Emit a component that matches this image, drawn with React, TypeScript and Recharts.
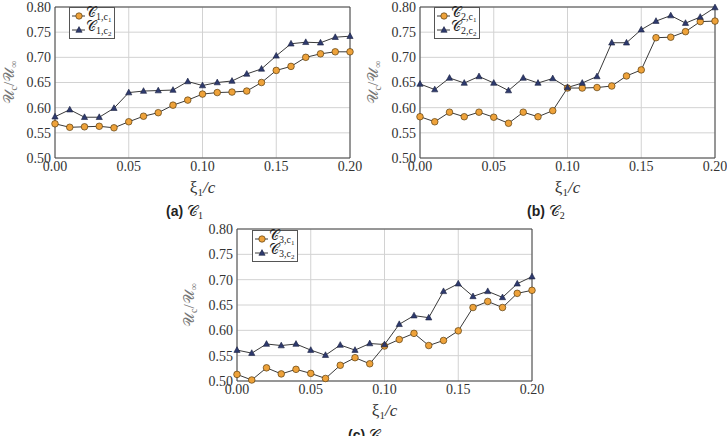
import React from "react";
import { CartesianGrid, Label, Legend, Line, LineChart, ReferenceArea, XAxis, YAxis } from "recharts";

// chordwise stations xi1/c
const xi = [0, 0.01, 0.02, 0.03, 0.04, 0.05, 0.06, 0.07, 0.08, 0.09, 0.1, 0.11, 0.12, 0.13, 0.14, 0.15, 0.16, 0.17, 0.18, 0.19, 0.2];

const c1e1 = [0.568, 0.561, 0.562, 0.563, 0.56, 0.572, 0.583, 0.59, 0.605, 0.615, 0.627, 0.63, 0.631, 0.633, 0.65, 0.674, 0.682, 0.7, 0.707, 0.711, 0.711];
const c1e2 = [0.582, 0.596, 0.581, 0.581, 0.599, 0.63, 0.633, 0.634, 0.635, 0.652, 0.644, 0.65, 0.653, 0.667, 0.677, 0.703, 0.727, 0.73, 0.729, 0.74, 0.742];
const c2e1 = [0.582, 0.572, 0.591, 0.582, 0.591, 0.581, 0.569, 0.591, 0.582, 0.594, 0.639, 0.639, 0.64, 0.643, 0.663, 0.675, 0.739, 0.74, 0.751, 0.771, 0.772];
const c2e2 = [0.647, 0.636, 0.659, 0.649, 0.662, 0.649, 0.634, 0.659, 0.649, 0.658, 0.64, 0.649, 0.662, 0.729, 0.729, 0.755, 0.772, 0.783, 0.768, 0.78, 0.799];
const c3e1 = [0.513, 0.502, 0.526, 0.514, 0.523, 0.515, 0.505, 0.531, 0.546, 0.534, 0.569, 0.582, 0.594, 0.57, 0.58, 0.599, 0.645, 0.657, 0.645, 0.673, 0.679];
const c3e2 = [0.561, 0.555, 0.573, 0.57, 0.573, 0.561, 0.551, 0.571, 0.561, 0.574, 0.572, 0.612, 0.629, 0.625, 0.677, 0.692, 0.667, 0.677, 0.665, 0.692, 0.706];

const xTicks = [0, 0.05, 0.1, 0.15, 0.2];
const yTicks = [0.5, 0.55, 0.6, 0.65, 0.7, 0.75, 0.8];

const serif = "'Liberation Serif', serif";
const sans = "'Liberation Sans', Arial, sans-serif";
const orange = "#eea23a";
const navy = "#2e3a6e";
const lineColor = "#3a3a3a";

function Tri(props: any) {
  const { cx, cy, index } = props;
  if (cx == null || cy == null) return <g key={index} />;
  return (
    <polygon
      key={index}
      points={`${cx},${cy - 3.4} ${cx - 3.1},${cy + 2.3} ${cx + 3.1},${cy + 2.3}`}
      fill={navy}
      stroke="#1b2240"
      strokeWidth={0.6}
    />
  );
}

function Name({ k, j }: { k: number; j: number }) {
  return (
    <span style={{ fontFamily: serif, fontSize: 14, color: "#222" }}>
      𝒞
      <span style={{ fontSize: 10, verticalAlign: -3 }}>
        {k},c<span style={{ fontSize: 7, verticalAlign: -2 }}>{j}</span>
      </span>
    </span>
  );
}

function LegendBox({ payload, k }: any) {
  return (
    <div style={{ border: "1px solid #555", background: "#fff", padding: "1px 3px 1px 1px", lineHeight: "14px" }}>
      {(payload || []).map((p: any, i: number) => (
        <div key={i} style={{ display: "flex", alignItems: "center", height: 14 }}>
          <svg width={15} height={12}>
            <line x1={1} y1={6} x2={14} y2={6} stroke={lineColor} strokeWidth={1} />
            {i === 0 ? (
              <circle cx={8} cy={6} r={3.2} fill={orange} stroke="#5a3d10" strokeWidth={0.7} />
            ) : (
              <polygon points="8,2.6 4.9,8.3 11.1,8.3" fill={navy} stroke="#1b2240" strokeWidth={0.6} />
            )}
          </svg>
          <Name k={k} j={i + 1} />
        </div>
      ))}
    </div>
  );
}

function Panel(props: {
  k: number;
  s1: number[];
  s2: number[];
  left: number;
  top: number;
  width: number;
  height: number;
  mt: number;
  mr: number;
  mb: number;
  yw: number;
  lx: number;
  ly: number;
}) {
  const { k, s1, s2, left, top, width, height, mt, mr, mb, yw, lx, ly } = props;
  const data = xi.map((x, i) => ({ x, e1: s1[i], e2: s2[i] }));
  const tickStyle = { fontSize: 14, fill: "#333", fontFamily: serif };
  return (
    <div style={{ position: "absolute", left, top, width, height }}>
      <LineChart width={width} height={height} data={data} margin={{ top: mt, right: mr, left: 0, bottom: mb }}>
        <CartesianGrid stroke="#d2d2d2" strokeWidth={1} />
        <XAxis
          dataKey="x"
          type="number"
          domain={[0, 0.2]}
          ticks={xTicks}
          tickFormatter={(v: number) => v.toFixed(2)}
          tick={tickStyle}
          tickLine={false}
          axisLine={false}
          tickSize={0}
          tickMargin={3}
          height={42}
          interval={0}
        >
          <Label
            content={(p: any) => {
              const vb = p.viewBox;
              return (
                <text x={vb.x + vb.width / 2} y={vb.y + 35} textAnchor="middle" fontFamily={serif} fontSize={17} fill="#333">
                  <tspan>ξ</tspan>
                  <tspan fontSize={11} dy={3}>1</tspan>
                  <tspan dy={-3} fontStyle="italic">/c</tspan>
                </text>
              );
            }}
          />
        </XAxis>
        <YAxis
          type="number"
          domain={[0.5, 0.8]}
          ticks={yTicks}
          tickFormatter={(v: number) => v.toFixed(2)}
          tick={tickStyle}
          tickLine={false}
          axisLine={false}
          tickSize={0}
          tickMargin={4}
          width={yw}
          interval={0}
        >
          <Label
            content={(p: any) => {
              const vb = p.viewBox;
              const cx = 14;
              const cy = vb.y + vb.height / 2;
              return (
                <text
                  x={cx}
                  y={cy}
                  transform={`rotate(-90 ${cx} ${cy})`}
                  textAnchor="middle"
                  fontFamily={serif}
                  fontSize={15}
                  fill="#777"
                >
                  <tspan>𝒰</tspan>
                  <tspan fontSize={10} dy={3}>c</tspan>
                  <tspan dy={-3}>/𝒰</tspan>
                  <tspan fontSize={10} dy={3}>∞</tspan>
                </text>
              );
            }}
          />
        </YAxis>
        <ReferenceArea x1={0} x2={0.2} y1={0.5} y2={0.8} fill="none" stroke="#444" strokeWidth={1} />
        <Line
          dataKey="e1"
          name="e1"
          stroke={lineColor}
          strokeWidth={1}
          dot={{ r: 3.3, fill: orange, stroke: "#5a3d10", strokeWidth: 0.7 }}
          isAnimationActive={false}
        />
        <Line dataKey="e2" name="e2" stroke={lineColor} strokeWidth={1} dot={<Tri />} isAnimationActive={false} />
        <Legend
          layout="vertical"
          align="center"
          verticalAlign="middle"
          wrapperStyle={{ left: lx, top: ly, width: "auto", height: "auto" }}
          content={(p: any) => <LegendBox payload={p.payload} k={k} />}
        />
      </LineChart>
    </div>
  );
}

function Caption({ tag, k, left, top }: { tag: string; k: number; left: number; top: number }) {
  return (
    <div style={{ position: "absolute", left, top, lineHeight: "16px", whiteSpace: "nowrap", color: "#222" }}>
      <span style={{ fontFamily: sans, fontWeight: "bold", fontSize: 14 }}>({tag})</span>
      <span style={{ fontFamily: serif, fontSize: 15 }}>
        {" "}𝒞<span style={{ fontSize: 10, verticalAlign: -3 }}>{k}</span>
      </span>
    </div>
  );
}

export default function App() {
  return (
    <div style={{ position: "absolute", left: 0, top: 0, width: 727, height: 436, overflow: "hidden", background: "#fff" }}>
      <Panel k={1} s1={c1e1} s2={c1e2} left={0} top={0} width={364} height={200} mt={7} mr={14} mb={0} yw={55} lx={69} ly={7} />
      <Panel k={2} s1={c2e1} s2={c2e2} left={364} top={0} width={363} height={200} mt={7} mr={12} mb={0} yw={56} lx={70} ly={7} />
      <Panel k={3} s1={c3e1} s2={c3e2} left={180} top={220} width={370} height={216} mt={9} mr={18} mb={13} yw={57} lx={72} ly={10} />
      <Caption tag="a" k={1} left={166} top={203} />
      <Caption tag="b" k={2} left={527} top={203} />
      <Caption tag="c" k={3} left={348} top={427} />
    </div>
  );
}
